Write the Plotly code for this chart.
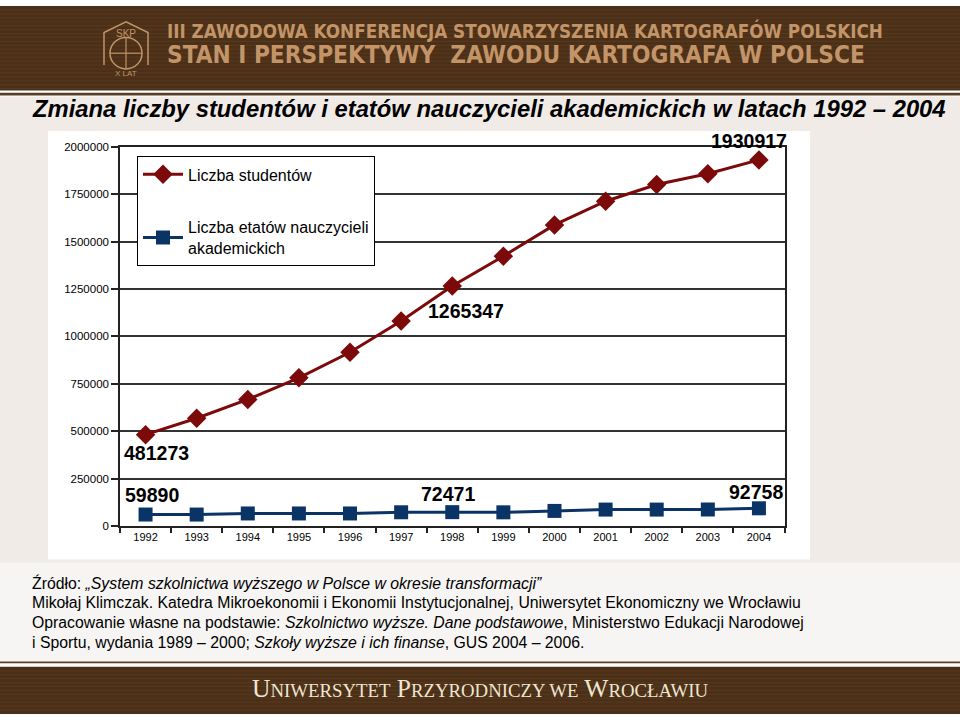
import plotly.graph_objects as go

years = [str(y) for y in range(1992, 2005)]
students = [481273, 568000, 667000, 781000, 916000, 1081000, 1265347,
            1423000, 1588000, 1713000, 1801000, 1858000, 1930917]
teachers = [59890, 59800, 65500, 65500, 65500, 71800, 72471,
            71500, 79000, 86000, 86000, 86500, 92758]
y_ticks = [0, 250000, 500000, 750000, 1000000, 1250000, 1500000, 1750000, 2000000]

name_students = "Liczba studentów"
name_teachers = "Liczba etatów nauczycieli<br>akademickich"

W, H = 960, 720
def px(x): return x / W
def py(y): return 1 - y / H

RED = "#7d0a0a"
NAVY = "#0b3466"
BROWN = "#4b2f17"
TAN = "#c29467"
COND = "DejaVu Sans Condensed, Liberation Sans"

fig = go.Figure()
fig.add_trace(go.Scatter(
    x=years, y=students, name=name_students, mode="lines+markers",
    line=dict(color=RED, width=3),
    marker=dict(symbol="diamond", size=15, color=RED),
    legendgroup="a"))
fig.add_trace(go.Scatter(
    x=years, y=teachers, name=name_teachers, mode="lines+markers",
    line=dict(color=NAVY, width=3),
    marker=dict(symbol="square", size=14, color=NAVY),
    legendgroup="b"))

shapes = []
shapes.append(dict(type="rect", xref="paper", yref="paper", x0=0, x1=1,
                   y0=py(666), y1=py(92), fillcolor="#f1ebe8", line_width=0, layer="below"))
shapes.append(dict(type="rect", xref="paper", yref="paper", x0=0, x1=1,
                   y0=py(666), y1=py(566), fillcolor="#f7f5f3", line_width=0, layer="below"))
shapes.append(dict(type="rect", xref="paper", yref="paper", x0=0, x1=1,
                   y0=py(86), y1=1, fillcolor=BROWN, line_width=0, layer="below"))
for s in range(4, 86, 4):
    shapes.append(dict(type="line", xref="paper", yref="paper", x0=0, x1=1,
                       y0=py(s), y1=py(s), line=dict(color="#55391f", width=1.2), layer="below"))
shapes.append(dict(type="rect", xref="paper", yref="paper", x0=0, x1=1,
                   y0=py(91), y1=py(88.3), fillcolor="#5a3d24", line_width=0, layer="below"))
shapes.append(dict(type="rect", xref="paper", yref="paper", x0=0, x1=1,
                   y0=py(668.5), y1=py(666.5), fillcolor="#5a3d24", line_width=0, layer="below"))
shapes.append(dict(type="rect", xref="paper", yref="paper", x0=0, x1=1,
                   y0=0, y1=py(672), fillcolor=BROWN, line_width=0, layer="below"))
for s in range(676, 720, 4):
    shapes.append(dict(type="line", xref="paper", yref="paper", x0=0, x1=1,
                       y0=py(s), y1=py(s), line=dict(color="#55391f", width=1.2), layer="below"))
shapes.append(dict(type="rect", xref="paper", yref="paper", x0=px(48), x1=px(810),
                   y0=py(563), y1=py(127), fillcolor="white", line_width=0, layer="below"))
# logo
shapes.append(dict(type="circle", xref="paper", yref="paper", x0=px(110), x1=px(142),
                   y0=py(64), y1=py(32), line=dict(color=TAN, width=1.5)))
shapes.append(dict(type="line", xref="paper", yref="paper", x0=px(126), x1=px(126),
                   y0=py(64), y1=py(32), line=dict(color=TAN, width=1.2)))
shapes.append(dict(type="line", xref="paper", yref="paper", x0=px(110), x1=px(142),
                   y0=py(48), y1=py(48), line=dict(color=TAN, width=1.2)))
shapes.append(dict(type="path", xref="paper", yref="paper",
                   path=f"M {px(104)},{py(60)} L {px(104)},{py(27)} L {px(126)},{py(16)} L {px(148)},{py(27)} L {px(148)},{py(60)}",
                   line=dict(color=TAN, width=1.5)))

annotations = []
annotations.append(dict(xref="paper", yref="paper", x=px(165), y=py(24.5), xanchor="left", yanchor="middle",
                        text="<b>III ZAWODOWA KONFERENCJA STOWARZYSZENIA KARTOGRAFÓW POLSKICH</b>",
                        showarrow=False, font=dict(family=COND, size=18.7, color=TAN)))
annotations.append(dict(xref="paper", yref="paper", x=px(165), y=py(50), xanchor="left", yanchor="middle",
                        text="<b>STAN I PERSPEKTYWY  ZAWODU KARTOGRAFA W POLSCE</b>",
                        showarrow=False, font=dict(family=COND, size=24.2, color=TAN)))
annotations.append(dict(xref="paper", yref="paper", x=px(126), y=py(28), xanchor="center", yanchor="middle",
                        text="SKP", showarrow=False, font=dict(family="Liberation Sans", size=10, color=TAN)))
annotations.append(dict(xref="paper", yref="paper", x=px(126), y=py(69), xanchor="center", yanchor="middle",
                        text="X LAT", showarrow=False, font=dict(family="Liberation Sans", size=8, color=TAN)))
annotations.append(dict(xref="paper", yref="paper", x=px(480), y=py(694), xanchor="center", yanchor="middle",
                        text="U<span style='font-size:18.8px'>NIWERSYTET</span> P<span style='font-size:18.8px'>RZYRODNICZY WE</span> W<span style='font-size:18.8px'>ROCŁAWIU</span>",
                        showarrow=False, font=dict(family="Liberation Serif", size=25.5, color="#efe6d2")))
annotations.append(dict(xref="paper", yref="paper", x=px(30), y=py(104), xanchor="left", yanchor="middle",
                        text="<b><i>Zmiana liczby studentów i etatów nauczycieli akademickich w latach 1992 – 2004</i></b>",
                        showarrow=False, font=dict(family="Liberation Sans", size=23.8, color="black")))

src_lines = [
    "Źródło: <i>„System szkolnictwa wyższego w Polsce w okresie transformacji”</i>",
    "Mikołaj Klimczak. Katedra Mikroekonomii i Ekonomii Instytucjonalnej, Uniwersytet Ekonomiczny we Wrocławiu",
    "Opracowanie własne na podstawie: <i>Szkolnictwo wyższe. Dane podstawowe</i>, Ministerstwo Edukacji Narodowej",
    "i Sportu, wydania 1989 – 2000; <i>Szkoły wyższe i ich finanse</i>, GUS 2004 – 2006.",
]
for i, t in enumerate(src_lines):
    annotations.append(dict(xref="paper", yref="paper", x=px(30), y=py(587 + 20 * i), xanchor="left",
                            yanchor="middle", text=t, showarrow=False,
                            font=dict(family="Liberation Sans", size=15.8, color="black")))

lab_font = dict(family="Liberation Sans", size=19.5, color="black")
def lab(series, idx, dx, dy):
    annotations.append(dict(xref="x", yref="y", x=idx, y=series[idx], text=f"<b>{series[idx]}</b>",
                            showarrow=False, xshift=dx, yshift=dy, font=lab_font))
lab(students, 0, 11, -18)
lab(students, 6, 14, -25)
lab(students, 12, -10, 19)
lab(teachers, 0, 6, 20)
lab(teachers, 6, -4, 18)
lab(teachers, 12, -3, 16)

fig.update_layout(
    width=W, height=H, margin=dict(l=0, r=0, t=0, b=0),
    paper_bgcolor="white", plot_bgcolor="white",
    shapes=shapes, annotations=annotations,
    showlegend=True,
    legend=dict(x=px(137), y=py(153), xanchor="left", yanchor="top",
                bgcolor="white", bordercolor="black", borderwidth=1,
                font=dict(family="Liberation Sans", size=16, color="black"),
                tracegroupgap=29, itemwidth=40),
    xaxis=dict(domain=[px(120), px(784.5)], type="category", tickson="boundaries",
               range=[-0.5, len(years) - 0.5],
               ticks="outside", ticklen=5, tickcolor="#222", tickwidth=1.5,
               showline=True, linecolor="#222", linewidth=1.5, mirror=True,
               showgrid=False, tickfont=dict(family="Liberation Sans", size=11, color="black")),
    yaxis=dict(domain=[py(528.7), py(143.2)], range=[0, 2000000], tickvals=y_ticks,
               ticktext=[str(v) for v in y_ticks],
               ticks="outside", ticklen=7, tickcolor="#222", tickwidth=1.5,
               showline=True, linecolor="#222", linewidth=1.5, mirror=True,
               showgrid=True, gridcolor="#333", gridwidth=1.5, zeroline=False,
               tickfont=dict(family="Liberation Sans", size=11.5, color="black")),
)

fig.write_html("out.html")
